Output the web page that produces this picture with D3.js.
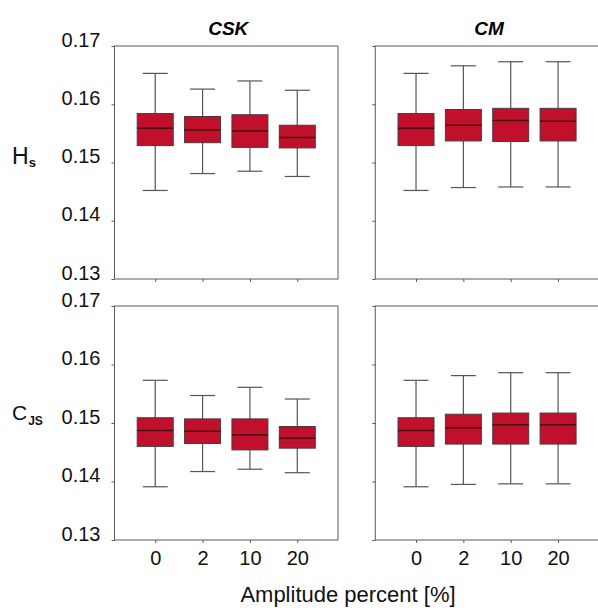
<!DOCTYPE html>
<html><head><meta charset="utf-8">
<script src="https://cdn.jsdelivr.net/npm/d3@7"></script>
<style>
html,body{margin:0;padding:0;background:#fff;}
svg{display:block;font-family:"Liberation Sans",Arial,sans-serif;}
</style></head>
<body><svg id="chart" width="598" height="611"></svg>
<script>
// ---------- data ----------
const categories = ["0", "2", "10", "20"];
const methods = ["CSK", "CM"];
const measures = ["Hs", "CJS"];
const yTicks = [0.13, 0.14, 0.15, 0.16, 0.17];

// H_s, CSK
const hsCSK_lo  = [0.1452, 0.1481, 0.1485, 0.1476];
const hsCSK_q1  = [0.1529, 0.1534, 0.1526, 0.1525];
const hsCSK_med = [0.1559, 0.1556, 0.1554, 0.1543];
const hsCSK_q3  = [0.1584, 0.1579, 0.1582, 0.1564];
const hsCSK_hi  = [0.1653, 0.1626, 0.1640, 0.1624];
// H_s, CM
const hsCM_lo  = [0.1452, 0.1457, 0.1458, 0.1458];
const hsCM_q1  = [0.1529, 0.1537, 0.1536, 0.1537];
const hsCM_med = [0.1559, 0.1564, 0.1572, 0.1571];
const hsCM_q3  = [0.1584, 0.1591, 0.1593, 0.1593];
const hsCM_hi  = [0.1653, 0.1666, 0.1673, 0.1673];
// C_JS, CSK
const cjsCSK_lo  = [0.1391, 0.1417, 0.1421, 0.1415];
const cjsCSK_q1  = [0.1460, 0.1465, 0.1454, 0.1457];
const cjsCSK_med = [0.1487, 0.1486, 0.1480, 0.1474];
const cjsCSK_q3  = [0.1509, 0.1507, 0.1507, 0.1494];
const cjsCSK_hi  = [0.1573, 0.1547, 0.1561, 0.1541];
// C_JS, CM
const cjsCM_lo  = [0.1391, 0.1395, 0.1396, 0.1396];
const cjsCM_q1  = [0.1460, 0.1464, 0.1464, 0.1464];
const cjsCM_med = [0.1487, 0.1492, 0.1497, 0.1497];
const cjsCM_q3  = [0.1509, 0.1515, 0.1517, 0.1517];
const cjsCM_hi  = [0.1573, 0.1581, 0.1586, 0.1586];

function rows(lo, q1, med, q3, hi) {
  return categories.map((c, i) => ({cat: c, lo: lo[i], q1: q1[i], med: med[i], q3: q3[i], hi: hi[i]}));
}
const panelData = {
  "Hs|CSK": rows(hsCSK_lo, hsCSK_q1, hsCSK_med, hsCSK_q3, hsCSK_hi),
  "Hs|CM": rows(hsCM_lo, hsCM_q1, hsCM_med, hsCM_q3, hsCM_hi),
  "CJS|CSK": rows(cjsCSK_lo, cjsCSK_q1, cjsCSK_med, cjsCSK_q3, cjsCSK_hi),
  "CJS|CM": rows(cjsCM_lo, cjsCM_q1, cjsCM_med, cjsCM_q3, cjsCM_hi)
};

// ---------- layout ----------
const svg = d3.select("#chart");
const colX = [[114.5, 338], [375.3, 598.8]];
const rowY = [[46, 279], [306, 540]];
const boxW = 36, capW = 25;
const axisColor = "#5a5a5a";
const fillColor = "#c0102b";

measures.forEach((m, ri) => {
  const y = d3.scaleLinear().domain([0.13, 0.17]).range([rowY[ri][1], rowY[ri][0]]);
  methods.forEach((meth, ci) => {
    const x = d3.scalePoint().domain(categories).range(colX[ci]).padding(0.86);
    const g = svg.append("g");
    const [x0, x1] = colX[ci];
    const [yTop, yBot] = [rowY[ri][0], rowY[ri][1]];

    // frame
    g.append("rect").attr("x", x0).attr("y", yTop).attr("width", x1 - x0).attr("height", yBot - yTop)
      .attr("fill", "none").attr("stroke", axisColor).attr("stroke-width", 1);

    // y axis
    const ya = d3.axisLeft(y).tickValues(yTicks).tickSize(3)
      .tickFormat(ci === 0 ? d3.format(".2f") : () => "");
    const yg = g.append("g").attr("transform", `translate(${x0},0)`).call(ya);
    yg.select(".domain").remove();
    yg.selectAll(".tick line").attr("stroke", axisColor);
    yg.selectAll(".tick text").attr("font-size", 20).attr("fill", "#111").attr("dy", "0")
      .attr("x", -14);

    // x axis
    const xa = d3.axisBottom(x).tickSize(3).tickPadding(8)
      .tickFormat(ri === 1 ? (d => d) : () => "");
    const xg = g.append("g").attr("transform", `translate(0,${yBot})`).call(xa);
    xg.select(".domain").remove();
    xg.selectAll(".tick line").attr("stroke", axisColor);
    xg.selectAll(".tick text").attr("font-size", 20).attr("fill", "#111").attr("dy", "0.68em");

    const data = panelData[m + "|" + meth];
    const b = g.selectAll(".box").data(data).enter().append("g").attr("class", "box");
    // whisker
    b.append("line").attr("x1", d => x(d.cat)).attr("x2", d => x(d.cat))
      .attr("y1", d => y(d.hi)).attr("y2", d => y(d.lo)).attr("stroke", "#555").attr("stroke-width", 1.2);
    b.append("line").attr("x1", d => x(d.cat) - capW / 2).attr("x2", d => x(d.cat) + capW / 2)
      .attr("y1", d => y(d.hi)).attr("y2", d => y(d.hi)).attr("stroke", "#555").attr("stroke-width", 1.2);
    b.append("line").attr("x1", d => x(d.cat) - capW / 2).attr("x2", d => x(d.cat) + capW / 2)
      .attr("y1", d => y(d.lo)).attr("y2", d => y(d.lo)).attr("stroke", "#555").attr("stroke-width", 1.2);
    // box
    b.append("rect").attr("x", d => x(d.cat) - boxW / 2).attr("width", boxW)
      .attr("y", d => y(d.q3)).attr("height", d => y(d.q1) - y(d.q3))
      .attr("fill", fillColor).attr("stroke", "#4a3a3c").attr("stroke-width", 1);
    // median
    b.append("line").attr("x1", d => x(d.cat) - boxW / 2).attr("x2", d => x(d.cat) + boxW / 2)
      .attr("y1", d => y(d.med)).attr("y2", d => y(d.med)).attr("stroke", "#4a0810").attr("stroke-width", 1.5);

    // column titles
    if (ri === 0) {
      svg.append("text").attr("x", (x0 + x1) / 2 + 2).attr("y", 34.5).attr("text-anchor", "middle")
        .attr("font-size", 19).attr("font-weight", "bold").attr("font-style", "italic").attr("fill", "#000")
        .text(meth);
    }
  });
});

// row labels
const hsLab = svg.append("text").attr("x", 12).attr("y", 164).attr("font-size", 23).attr("fill", "#111");
hsLab.append("tspan").text("H");
hsLab.append("tspan").attr("font-size", 13).attr("font-weight", "bold").attr("dy", 3).text("s");
const cjsLab = svg.append("text").attr("x", 12).attr("y", 420).attr("font-size", 21).attr("fill", "#111");
cjsLab.append("tspan").text("C");
cjsLab.append("tspan").attr("font-size", 12).attr("font-weight", "bold").attr("dy", 5).attr("dx", 1).text("JS");

// x title
svg.append("text").attr("x", 348).attr("y", 602).attr("text-anchor", "middle")
  .attr("font-size", 22).attr("fill", "#111").text("Amplitude percent [%]");
</script>
</body></html>
